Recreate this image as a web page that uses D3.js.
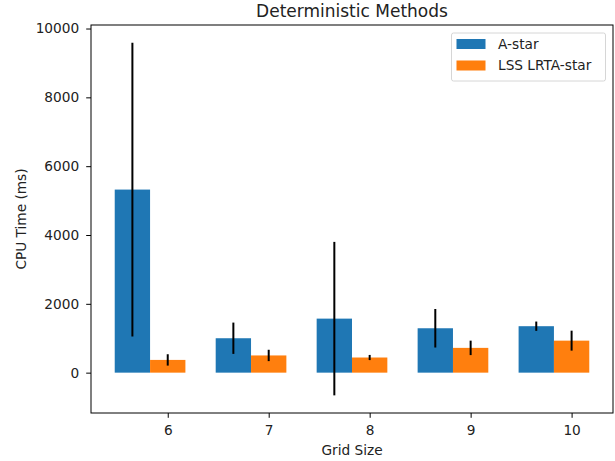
<!DOCTYPE html>
<html>
<head>
<meta charset="utf-8">
<script src="https://cdn.jsdelivr.net/npm/d3@7"></script>
<style>
  body { margin: 0; background: #fff; }
  svg { font-family: "DejaVu Sans", sans-serif; }
</style>
</head>
<body>
<div id="chart"></div>
<script>
// values
const gridSizes = [6, 7, 8, 9, 10]
const astarMean = [5320, 1000, 1570, 1290, 1350]
const astarErr = [4270, 455, 2230, 560, 135]
const lssMean = [370, 500, 440, 720, 930]
const lssErr = [165, 165, 75, 210, 290]
const yTicks = [0, 2000, 4000, 6000, 8000, 10000]
const seriesNames = ['A-star', 'LSS LRTA-star']
const colors = ['#1f77b4', '#ff7f0e']

const width = 615
const height = 461
const margin = { top: 25, right: 2, bottom: 48, left: 91 }
const barW = 0.35
const fs = '13.7px'

const svg = d3.select('#chart')
  .append('svg')
  .attr('width', width)
  .attr('height', height)

const series = [
  { name: seriesNames[0], mean: astarMean, err: astarErr, offset: -barW, color: colors[0] },
  { name: seriesNames[1], mean: lssMean, err: lssErr, offset: 0, color: colors[1] }
]

// matplotlib-like autoscale with 5% margins
const xLo = d3.min(gridSizes) - barW * 1.5
const xHi = d3.max(gridSizes) + barW * 0.5
const xPad = (xHi - xLo) * 0.05
const x = d3.scaleLinear()
  .domain([xLo - xPad, xHi + xPad])
  .range([margin.left, width - margin.right])

const lows = series.flatMap(s => s.mean.map((m, i) => m - s.err[i]))
const highs = series.flatMap(s => s.mean.map((m, i) => m + s.err[i]))
const yLo = Math.min(0, d3.min(lows))
const yHi = d3.max(highs)
const yPad = (yHi - yLo) * 0.05
const y = d3.scaleLinear()
  .domain([yLo - yPad, yHi + yPad])
  .range([height - margin.bottom, margin.top])

const textColor = '#222'

series.forEach(s => {
  const g = svg.append('g')
  g.selectAll('rect')
    .data(gridSizes)
    .join('rect')
    .attr('x', (d) => x(d + s.offset - barW / 2))
    .attr('width', (d) => x(d + s.offset + barW / 2) - x(d + s.offset - barW / 2))
    .attr('y', (d, i) => y(s.mean[i]))
    .attr('height', (d, i) => y(0) - y(s.mean[i]))
    .attr('fill', s.color)

  g.selectAll('line')
    .data(gridSizes)
    .join('line')
    .attr('x1', (d) => x(d + s.offset))
    .attr('x2', (d) => x(d + s.offset))
    .attr('y1', (d, i) => y(s.mean[i] - s.err[i]))
    .attr('y2', (d, i) => y(s.mean[i] + s.err[i]))
    .attr('stroke', '#000')
    .attr('stroke-width', 2)
})

// axes
const xAxis = svg.append('g')
  .attr('transform', `translate(0,${height - margin.bottom})`)
  .call(d3.axisBottom(x).tickValues(gridSizes).tickSize(4.8).tickPadding(7).tickFormat(d3.format('d')))
const yAxis = svg.append('g')
  .attr('transform', `translate(${margin.left},0)`)
  .call(d3.axisLeft(y).tickValues(yTicks).tickSize(4.8).tickPadding(7).tickFormat(d3.format('d')))

;[xAxis, yAxis].forEach(a => {
  a.select('.domain').remove()
  a.selectAll('.tick line').attr('stroke', '#000').attr('stroke-width', 1)
  a.selectAll('.tick text')
    .attr('fill', textColor)
    .style('font-size', fs)
    .style('font-family', '"DejaVu Sans", sans-serif')
})

// frame
svg.append('rect')
  .attr('x', margin.left)
  .attr('y', margin.top)
  .attr('width', width - margin.left - margin.right)
  .attr('height', height - margin.top - margin.bottom)
  .attr('fill', 'none')
  .attr('stroke', '#000')
  .attr('stroke-width', 1)

// labels
svg.append('text')
  .attr('x', (margin.left + width - margin.right) / 2)
  .attr('y', 17)
  .attr('text-anchor', 'middle')
  .attr('fill', textColor)
  .style('font-size', '17px')
  .text('Deterministic Methods')

svg.append('text')
  .attr('x', (margin.left + width - margin.right) / 2)
  .attr('y', 455)
  .attr('text-anchor', 'middle')
  .attr('fill', textColor)
  .style('font-size', fs)
  .text('Grid Size')

svg.append('text')
  .attr('transform', `translate(26,${(margin.top + height - margin.bottom) / 2}) rotate(-90)`)
  .attr('text-anchor', 'middle')
  .attr('fill', textColor)
  .style('font-size', fs)
  .text('CPU Time (ms)')

// legend
const legend = svg.append('g').attr('transform', 'translate(451.5,33)')
legend.append('rect')
  .attr('width', 154)
  .attr('height', 48)
  .attr('rx', 2)
  .attr('fill', '#fff')
  .attr('stroke', '#ccc')
  .attr('stroke-width', 0.8)

series.forEach((s, i) => {
  legend.append('rect')
    .attr('x', 5)
    .attr('y', 6 + i * 21.5)
    .attr('width', 29)
    .attr('height', 10)
    .attr('fill', s.color)
  legend.append('text')
    .attr('x', 46.5)
    .attr('y', 15.7 + i * 21.7)
    .attr('fill', textColor)
    .style('font-size', fs)
    .text(s.name)
})
</script>
</body>
</html>
